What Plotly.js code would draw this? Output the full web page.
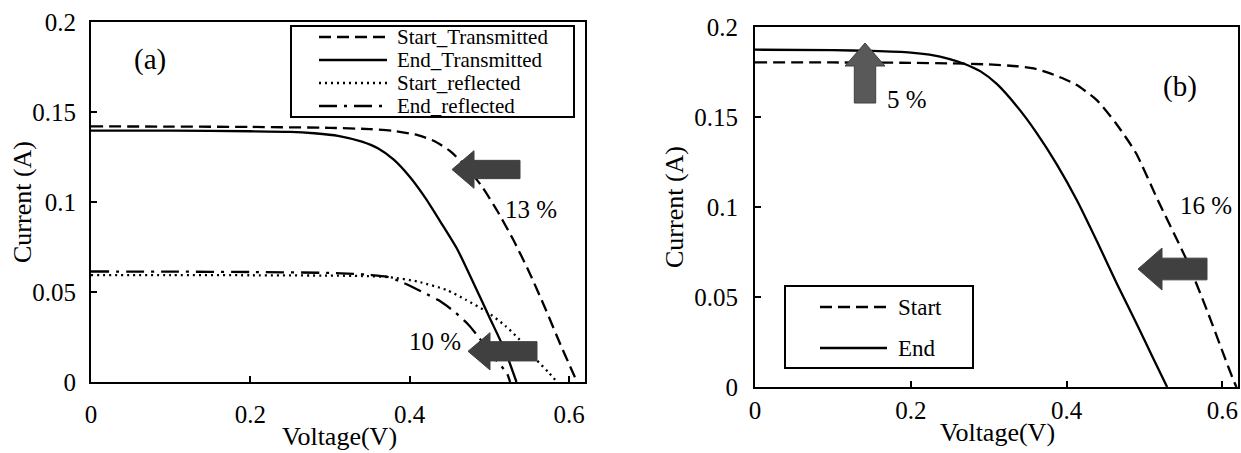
<!DOCTYPE html>
<html>
<head>
<meta charset="utf-8">
<script src="https://cdn.plot.ly/plotly-3.0.1.min.js"></script>
<style>
  html, body { margin: 0; padding: 0; background: #ffffff; }
  #chart { width: 1241px; height: 453px; }
</style>
</head>
<body>
<div id="chart"></div>
<script>
// ---------- Data: panel (a) ----------
const V_a_startT = [0, 0.1, 0.2, 0.3, 0.35, 0.38, 0.41, 0.43, 0.45, 0.47, 0.49, 0.51, 0.53, 0.55, 0.57, 0.59, 0.60, 0.61];
const I_a_startT = [0.142, 0.1419, 0.1417, 0.1412, 0.1405, 0.1395, 0.1372, 0.134, 0.1285, 0.120, 0.109, 0.095, 0.079, 0.061, 0.041, 0.020, 0.010, 0];

const V_a_endT = [0, 0.1, 0.2, 0.25, 0.28, 0.31, 0.34, 0.36, 0.38, 0.40, 0.42, 0.44, 0.46, 0.48, 0.50, 0.52, 0.534];
const I_a_endT = [0.1397, 0.1396, 0.1393, 0.139, 0.1382, 0.1368, 0.1335, 0.1298, 0.1235, 0.1140, 0.1020, 0.0880, 0.0735, 0.055, 0.036, 0.017, 0];

const V_a_startR = [0, 0.1, 0.2, 0.3, 0.34, 0.3755, 0.41, 0.4462, 0.47, 0.4966, 0.52, 0.5384, 0.5593, 0.575, 0.585];
const I_a_startR = [0.0594, 0.0594, 0.0593, 0.0591, 0.0589, 0.0582, 0.0558, 0.0511, 0.0458, 0.0391, 0.0312, 0.0233, 0.0122, 0.005, 0];

const V_a_endR = [0, 0.1, 0.2, 0.3, 0.33, 0.35, 0.371, 0.39, 0.415, 0.436, 0.456, 0.474, 0.486, 0.505, 0.522, 0.526];
const I_a_endR = [0.0614, 0.0613, 0.0611, 0.0606, 0.0601, 0.0595, 0.0585, 0.0555, 0.0502, 0.0455, 0.0391, 0.0317, 0.0252, 0.014, 0.0048, 0];

// ---------- Data: panel (b) ----------
const V_b_start = [0, 0.1, 0.2, 0.25, 0.3, 0.336, 0.36, 0.377, 0.395, 0.412, 0.438, 0.463, 0.489, 0.517, 0.554, 0.58, 0.601, 0.614, 0.618];
const I_b_start = [0.1804, 0.1803, 0.1801, 0.1798, 0.1792, 0.1782, 0.1768, 0.1745, 0.1715, 0.168, 0.1597, 0.1467, 0.130, 0.1039, 0.0706, 0.0428, 0.0187, 0.0039, 0];

const V_b_end = [0, 0.1, 0.15, 0.2, 0.224, 0.25, 0.27, 0.29, 0.31, 0.336, 0.361, 0.387, 0.413, 0.44, 0.465, 0.49, 0.51, 0.529];
const I_b_end = [0.1874, 0.1871, 0.1867, 0.1858, 0.1846, 0.1822, 0.1793, 0.1752, 0.1685, 0.156, 0.1415, 0.124, 0.1039, 0.080, 0.057, 0.035, 0.017, 0];

// ---------- Text ----------
const legendA = ["Start_Transmitted", "End_Transmitted", "Start_reflected", "End_reflected"];
const legendB = ["Start", "End"];
const xTitle = "Voltage(V)";
const yTitle = "Current (A)";

// ---------- Styles ----------
const FONT = "'Liberation Serif', 'Times New Roman', serif";
const DASH = "12px,6px";
const DOT = "2px,4px";
const DASHDOT = "18px,7px,3px,7px";
const W = 1241, H = 453;
const px = x => x / W;
const py = y => 1 - y / H;

function tr(x, y, dash, xa, ya) {
  return { x: x, y: y, type: "scatter", mode: "lines", xaxis: xa, yaxis: ya,
           line: { color: "#000", width: 2.3, dash: dash, shape: "spline", smoothing: 0.6 },
           showlegend: false, hoverinfo: "skip" };
}

const data = [
  tr(V_a_startT, I_a_startT, DASH, "x", "y"),
  tr(V_a_endT, I_a_endT, "solid", "x", "y"),
  tr(V_a_startR, I_a_startR, DOT, "x", "y"),
  tr(V_a_endR, I_a_endR, DASHDOT, "x", "y"),
  tr(V_b_start, I_b_start, DASH, "x2", "y2"),
  tr(V_b_end, I_b_end, "solid", "x2", "y2")
];

function xax(domain, standoff) {
  return { domain: domain, range: [0, 0.62], dtick: 0.2, tick0: 0, showgrid: false, zeroline: false,
           showline: true, linecolor: "#000", linewidth: 2, mirror: true,
           ticks: "inside", ticklen: 6, tickwidth: 2, tickcolor: "#000",
           ticklabelstandoff: standoff,
           tickfont: { family: FONT, size: 25, color: "#000" } };
}
function yax(domain, anchor, standoff) {
  return { domain: domain, anchor: anchor, range: [0, 0.2], dtick: 0.05, tick0: 0, showgrid: false, zeroline: false,
           showline: true, linecolor: "#000", linewidth: 2, mirror: true,
           ticks: "inside", ticklen: 6, tickwidth: 2, tickcolor: "#000",
           ticklabelstandoff: standoff,
           tickfont: { family: FONT, size: 25, color: "#000" } };
}

function txt(x, y, t, size, opts) {
  return Object.assign({ xref: "paper", yref: "paper", x: px(x), y: py(y), text: t, showarrow: false,
           xanchor: "center", yanchor: "middle", font: { family: FONT, size: size, color: "#000" } }, opts || {});
}

const annotations = [
  txt(22, 202, yTitle, 26, { textangle: -90 }),
  txt(339, 436, xTitle, 26),
  txt(674, 207, yTitle, 26, { textangle: -90 }),
  txt(997, 432, xTitle, 26),
  txt(150, 59, "(a)", 29),
  txt(1180, 87, "(b)", 29),
  txt(531, 210, "13 %", 25),
  txt(435, 341, "10 %", 25),
  txt(907, 99, "5 %", 25),
  txt(1206, 205, "16 %", 25)
];

const shapes = [];
function hline(x0, x1, y, dash) {
  shapes.push({ type: "line", xref: "paper", yref: "paper", x0: px(x0), x1: px(x1), y0: py(y), y1: py(y),
                line: { color: "#000", width: 2.3, dash: dash } });
}
function box(x0, y0, x1, y1) {
  shapes.push({ type: "rect", xref: "paper", yref: "paper", x0: px(x0), x1: px(x1), y0: py(y0), y1: py(y1),
                fillcolor: "#fff", line: { color: "#000", width: 2 }, layer: "above" });
}
function pathShape(pts, fill, lineColor) {
  const d = pts.map((p, i) => (i ? "L" : "M") + px(p[0]) + "," + py(p[1])).join(" ") + " Z";
  shapes.push({ type: "path", xref: "paper", yref: "paper", path: d, fillcolor: fill,
                line: { color: lineColor, width: 1 }, layer: "above" });
}
function leftArrow(tipX, headX, endX, cy, headH, bodyH, fill) {
  pathShape([[tipX, cy], [headX, cy - headH / 2], [headX, cy - bodyH / 2], [endX, cy - bodyH / 2],
             [endX, cy + bodyH / 2], [headX, cy + bodyH / 2], [headX, cy + headH / 2]], fill, fill);
}
function upArrow(cx, tipY, headY, endY, headW, bodyW, fill, lc) {
  pathShape([[cx, tipY], [cx + headW / 2, headY], [cx + bodyW / 2, headY], [cx + bodyW / 2, endY],
             [cx - bodyW / 2, endY], [cx - bodyW / 2, headY], [cx - headW / 2, headY]], fill, lc);
}

// Legend (a)
box(291, 26, 574, 117);
const legAdash = [DASH, "solid", DOT, DASHDOT];
const legAy = [37, 60, 83, 106];
legendA.forEach((t, i) => {
  hline(319, 387, legAy[i], legAdash[i]);
  annotations.push(txt(395, legAy[i], t, 21, { xanchor: "left" }));
});

// Legend (b)
box(785, 286, 973, 368);
const legBdash = [DASH, "solid"];
const legBy = [307, 348];
legendB.forEach((t, i) => {
  hline(820, 887, legBy[i], legBdash[i]);
  annotations.push(txt(896, legBy[i], t, 23, { xanchor: "left" }));
});

// Arrows
leftArrow(452, 474, 520, 169.5, 37.6, 18.3, "#404040");
leftArrow(468, 490, 537, 351.3, 37.3, 19.3, "#404040");
leftArrow(1138, 1162, 1207, 269, 42, 21.7, "#404040");
upArrow(865, 43, 66, 103, 40, 21.4, "#595959", "#404040");

const layout = {
  width: W, height: H,
  margin: { l: 0, r: 0, t: 0, b: 0, pad: 0 },
  paper_bgcolor: "#fff", plot_bgcolor: "#fff",
  showlegend: false,
  xaxis: Object.assign(xax([px(91), px(585)], 9), { anchor: "y" }),
  yaxis: yax([py(382), py(22)], "x", 8),
  xaxis2: Object.assign(xax([px(755), px(1238)], 0), { anchor: "y2" }),
  yaxis2: yax([py(387), py(27)], "x2", 10),
  annotations: annotations,
  shapes: shapes
};

Plotly.newPlot("chart", data, layout, { staticPlot: true, displayModeBar: false });
</script>
</body>
</html>
